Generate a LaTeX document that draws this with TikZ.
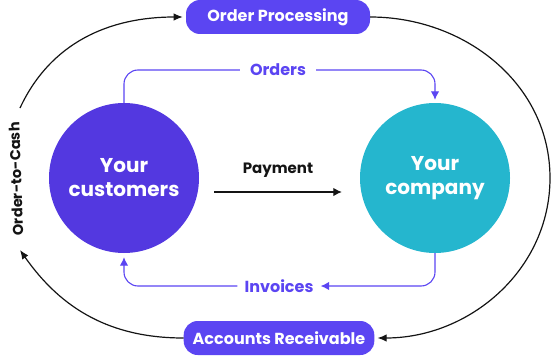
\documentclass[tikz,border=0pt]{standalone}
\usepackage{fontspec}
\setmainfont{Poppins}
\usepackage{tikz}
\usetikzlibrary{arrows.meta,positioning,calc}
\definecolor{boxpurple}{HTML}{5B45F2}
\definecolor{custpurple}{HTML}{5338E0}
\definecolor{compteal}{HTML}{25B6CE}
\definecolor{inkblack}{HTML}{141414}

\begin{document}
\begin{tikzpicture}[
    x=1pt, y=1pt,
    stage/.style={rectangle, rounded corners=14pt, fill=boxpurple, text=white, font=\fontsize{16}{19}\selectfont\bfseries, minimum height=34pt, inner xsep=9pt},
    party/.style={circle, minimum size=150pt, text=white, align=center, font=\fontsize{20}{24}\selectfont\bfseries},
    flowlabel/.style={font=\fontsize{16}{19}\selectfont\bfseries, text=boxpurple, inner xsep=10pt},
    flow/.style={draw=boxpurple, line width=1.1pt, rounded corners=14pt},
    outer/.style={draw=inkblack, line width=1.2pt, -{Latex[length=3.2mm,width=2.6mm]}},
    arrowp/.style={-{Latex[length=3mm,width=3mm]}}
  ]
    \useasboundingbox (0,0) rectangle (551,357);

    \node[party, fill=custpurple] (cust) at (124,179) {Your\\customers};
    \node[party, fill=compteal] (comp) at (435,179) {Your\\company};
    \node[stage, minimum width=184pt] (proc) at (278,340) {Order Processing};
    \node[stage, minimum width=188pt] (recv) at (279,19) {Accounts Receivable};

    % inner flows
    \node[flowlabel] (orders) at (278,287) {Orders};
    \node[flowlabel] (invoices) at (279,71) {Invoices};
    \draw[flow] (cust.north) |- (orders.west);
    \draw[flow, arrowp] (orders.east) -| ([yshift=3pt]comp.north);
    \draw[flow, arrowp] (comp.south) |- ([xshift=-3pt]invoices.east);
    \draw[flow, arrowp] ([xshift=3pt]invoices.west) -| ([yshift=-4pt]cust.south);

    \node[font=\fontsize{15}{18}\selectfont\bfseries, text=inkblack] (pay) at (278,187) {Payment};
    \draw[draw=inkblack, line width=1.1pt, -{Latex[length=3mm,width=3mm]}] ([xshift=15pt,yshift=-14pt]cust.east) -- ([xshift=-18pt,yshift=-14pt]comp.west);

    % outer loop
    \coordinate (lt) at (20,249);
    \coordinate (lb) at (20,107);
    \coordinate (rt) at (550,179);
    \draw[outer] (lt) to[out=65,in=180] ([xshift=-3pt]proc.west);
    \draw[outer] (proc.east) to[out=0,in=90] (rt) to[out=-90,in=0] ([xshift=3pt]recv.east);
    \draw[outer] (recv.west) to[out=180,in=-55] (lb);
    \node[rotate=92, font=\fontsize{14.5}{17}\selectfont\bfseries, text=inkblack] (o2c) at (16,178) {Order-to-Cash};
\end{tikzpicture}
\end{document}
